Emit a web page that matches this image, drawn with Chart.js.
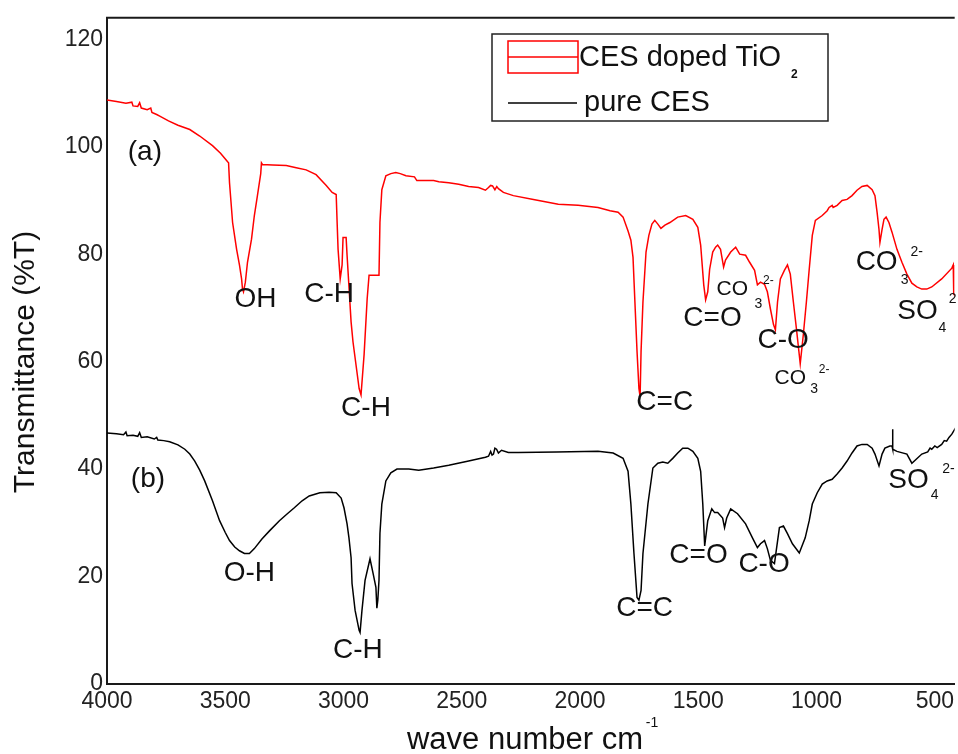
<!DOCTYPE html>
<html>
<head>
<meta charset="utf-8">
<script src="https://cdn.jsdelivr.net/npm/chart.js@4.4.1/dist/chart.umd.min.js"></script>
<style>
  html, body { margin: 0; padding: 0; background: #fff; }
  canvas { display: block; }
</style>
</head>
<body>
<canvas id="ftir" width="958" height="754"></canvas>
<script>
// series labels
const seriesNames = ["CES doped TiO2", "pure CES"];

// (a) CES doped TiO2 - wave number (cm-1) and transmittance (%T)
const dopedWn = [4000, 3960, 3920, 3895, 3890, 3870, 3862, 3855, 3830, 3815, 3810, 3790, 3777, 3740, 3700, 3650, 3608, 3554, 3520, 3490,
  3486, 3482, 3469, 3452, 3440, 3431, 3427, 3423, 3415, 3406, 3389, 3377, 3364, 3350, 3347, 3343, 3300, 3242, 3200, 3158,
  3116, 3073, 3048, 3031, 3027, 3023, 3014, 3006, 3002, 2989, 2985, 2968, 2960, 2934, 2926, 2913, 2900, 2892, 2850, 2846,
  2838, 2821, 2800, 2779, 2760, 2736, 2700, 2690, 2619, 2597, 2555, 2513, 2471, 2429, 2400, 2387, 2378, 2370, 2360, 2352,
  2345, 2324, 2282, 2197, 2092, 2008, 1924, 1873, 1839, 1818, 1797, 1785, 1776, 1768, 1759, 1751, 1746, 1742, 1734, 1721,
  1709, 1696, 1684, 1671, 1658, 1641, 1620, 1587, 1553, 1523, 1502, 1490, 1477, 1469, 1460, 1452, 1439, 1427, 1418, 1406,
  1393, 1385, 1363, 1342, 1325, 1300, 1283, 1262, 1250, 1237, 1220, 1208, 1195, 1182, 1174, 1165, 1153, 1136, 1123, 1111,
  1098, 1085, 1069, 1056, 1043, 1031, 1018, 1005, 976, 955, 947, 934, 930, 913, 892, 871, 850, 829, 808, 786,
  765, 753, 744, 736, 732, 723, 715, 706, 694, 681, 660, 639, 618, 597, 576, 555, 534, 513, 471, 428,
  422, 420, 410];
const dopedT = [108.7, 108.4, 108.1, 108.3, 107.6, 107.5, 108.2, 107.2, 106.9, 107.2, 106.4, 106.0, 105.7, 104.8, 104.0, 103.2, 102.0, 100.2, 98.8, 97.2,
  97.0, 93.3, 85.9, 80.9, 78.0, 75.4, 73.5, 73.0, 74.8, 78.5, 82.8, 87.2, 90.9, 95.0, 97.0, 96.7, 96.6, 96.5, 96.1, 95.7,
  94.8, 92.8, 91.5, 91.1, 85.9, 80.9, 75.4, 78.0, 83.1, 83.1, 79.8, 67.4, 63.7, 55.0, 53.8, 61.3, 71.7, 76.1, 76.1, 85.9,
  92.0, 94.6, 95.0, 95.2, 95.0, 94.6, 94.4, 93.7, 93.7, 93.5, 93.3, 93.0, 92.6, 92.4, 91.9, 92.4, 92.8, 92.7, 92.0, 92.6,
  92.2, 91.5, 90.9, 90.2, 89.3, 89.1, 88.7, 88.1, 87.8, 86.9, 84.3, 82.6, 79.4, 71.1, 61.9, 55.0, 53.5, 61.9, 71.1, 80.4,
  83.5, 85.6, 86.3, 85.6, 84.8, 85.4, 85.9, 86.9, 87.2, 86.5, 85.0, 81.7, 74.3, 71.5, 73.0, 77.2, 80.4, 81.3, 81.7, 80.9,
  77.6, 78.9, 80.4, 81.3, 80.0, 79.8, 78.5, 77.0, 74.3, 74.8, 74.4, 73.0, 69.8, 66.9, 65.9, 71.1, 75.4, 77.0, 78.0, 76.3,
  71.1, 66.1, 59.6, 65.0, 71.1, 77.2, 83.5, 86.3, 87.2, 88.1, 88.7, 89.1, 88.7, 89.1, 90.0, 90.2, 90.9, 91.9, 92.6, 92.8,
  92.0, 90.9, 87.8, 84.6, 82.2, 84.6, 86.5, 86.9, 85.9, 84.1, 80.9, 78.5, 76.3, 74.6, 73.9, 73.5, 73.5, 73.9, 75.4, 77.4,
  78.0, 72.6, 72.0];

// (b) pure CES
const pureWn = [4000, 3960, 3930, 3920, 3915, 3890, 3870, 3862, 3855, 3830, 3800, 3790, 3785, 3760, 3735, 3700, 3671, 3650, 3629, 3608,
  3587, 3554, 3524, 3500, 3482, 3460, 3440, 3419, 3398, 3377, 3345, 3313, 3271, 3240, 3208, 3175, 3145, 3100, 3061, 3031,
  3010, 2998, 2985, 2977, 2968, 2964, 2951, 2934, 2930, 2922, 2909, 2888, 2884, 2875, 2863, 2859, 2855, 2850, 2846, 2838,
  2821, 2800, 2774, 2724, 2682, 2619, 2555, 2471, 2400, 2387, 2378, 2372, 2366, 2360, 2353, 2345, 2332, 2303, 2261, 2100,
  1924, 1860, 1818, 1797, 1785, 1772, 1759, 1751, 1742, 1734, 1713, 1692, 1671, 1650, 1629, 1608, 1587, 1566, 1544, 1523,
  1502, 1490, 1481, 1473, 1460, 1443, 1431, 1418, 1397, 1389, 1380, 1363, 1334, 1300, 1271, 1250, 1237, 1220, 1208, 1195,
  1178, 1157, 1140, 1123, 1102, 1073, 1048, 1031, 1018, 997, 976, 955, 934, 913, 892, 871, 850, 829, 808, 786,
  765, 753, 736, 723, 711, 690, 681, 679, 677, 660, 618, 597, 555, 530, 520, 513, 500, 490, 471, 460,
  450, 440, 428, 416, 410];
const pureT = [46.7, 46.6, 46.4, 46.9, 46.2, 46.3, 46.1, 46.8, 45.9, 46.0, 45.6, 45.9, 45.4, 45.3, 45.1, 44.5, 43.7, 42.8, 41.5, 39.8,
  37.8, 34.1, 30.4, 28.2, 26.7, 25.5, 24.8, 24.3, 24.3, 25.2, 27.0, 28.5, 30.4, 31.6, 32.8, 34.1, 35.0, 35.6, 35.7, 35.6,
  34.6, 32.8, 29.8, 27.2, 23.5, 18.7, 13.7, 10.0, 9.6, 13.7, 19.3, 23.3, 23.3, 20.6, 18.0, 14.1, 15.6, 19.3, 28.0, 33.5,
  37.8, 39.3, 40.0, 40.0, 39.8, 40.2, 40.7, 41.5, 42.2, 42.4, 43.3, 42.6, 42.8, 43.9, 43.7, 43.0, 43.5, 43.1, 43.1, 43.2,
  43.3, 43.0, 42.0, 39.6, 33.5, 24.3, 16.1, 15.6, 17.4, 24.3, 33.5, 40.2, 41.1, 41.3, 41.1, 42.0, 43.0, 43.9, 43.9, 43.3,
  42.0, 39.6, 33.5, 25.7, 30.4, 32.6, 31.9, 31.9, 30.9, 29.1, 30.9, 32.6, 31.7, 29.8, 27.2, 25.4, 26.1, 26.7, 25.2, 23.0,
  22.4, 29.1, 29.4, 28.0, 26.1, 24.4, 27.2, 30.4, 33.5, 35.6, 37.2, 37.8, 38.1, 39.1, 40.2, 41.5, 43.0, 44.3, 44.6, 44.6,
  43.9, 42.8, 40.6, 42.8, 43.9, 44.3, 44.3, 47.4, 43.7, 43.3, 42.8, 41.1, 42.8, 43.2, 43.9, 43.7, 44.3, 44.0, 44.6, 45.3,
  45.2, 45.9, 46.5, 47.4, 47.8];

// axis ticks
const xTicks = [4000, 3500, 3000, 2500, 2000, 1500, 1000, 500];
const yTicks = [0, 20, 40, 60, 80, 100, 120];

// band labels: text, wave number, %T, font size
const bandLabels = [
  ["(a)", 3840, 98.9, 28], ["(b)", 3827, 38.1, 28],
  ["OH", 3372, 71.7, 28], ["C-H", 3061, 72.6, 28], ["C-H", 2905, 51.3, 28],
  ["C=C", 1642, 52.4, 28], ["C=O", 1440, 68.0, 28],
  ["CO", 1356, 73.5, 21], ["3", 1246, 70.7, 14], ["2-", 1204, 75.0, 12],
  ["C-O", 1141, 63.9, 28],
  ["CO", 1111, 57.0, 21], ["3", 1010, 54.8, 14], ["2-", 968, 58.5, 12],
  ["CO", 746, 78.5, 28], ["3", 628, 75.2, 14], ["2-", 577, 80.4, 14],
  ["SO", 573, 69.3, 28], ["4", 468, 66.3, 14], ["2", 425, 71.7, 14],
  ["O-H", 3398, 20.7, 28], ["C-H", 2939, 6.3, 28],
  ["C=C", 1727, 14.1, 28], ["C=O", 1499, 23.9, 28], ["C-O", 1222, 22.2, 28],
  ["SO", 611, 38.0, 28], ["4", 501, 35.2, 14], ["2-", 442, 40.0, 14]
];

const FONT = "'Liberation Sans', Arial, sans-serif";
const toPoints = (xs, ys) => xs.map((x, i) => ({ x: x, y: ys[i] }));

// extra drawing: frame top, band labels, legend box, axis titles
const extras = {
  id: "extras",
  afterDraw(chart) {
    const ctx = chart.ctx;
    const area = chart.chartArea;
    const xs = chart.scales.x, ys = chart.scales.y;
    ctx.save();

    ctx.strokeStyle = "#1a1a1a";
    ctx.lineWidth = 2;
    ctx.beginPath();
    ctx.moveTo(area.left - 1, area.top);
    ctx.lineTo(area.right, area.top);
    ctx.stroke();

    ctx.fillStyle = "#111";
    ctx.textAlign = "center";
    ctx.textBaseline = "middle";
    bandLabels.forEach(([t, wn, v, size]) => {
      ctx.font = size + "px " + FONT;
      ctx.fillText(t, xs.getPixelForValue(wn), ys.getPixelForValue(v));
    });

    // legend
    ctx.lineWidth = 1.5;
    ctx.strokeStyle = "#222";
    ctx.strokeRect(492, 34, 336, 87);
    ctx.strokeStyle = "#ff0000";
    ctx.strokeRect(508, 41, 70, 32);
    ctx.beginPath(); ctx.moveTo(508, 57); ctx.lineTo(578, 57); ctx.stroke();
    ctx.strokeStyle = "#000";
    ctx.beginPath(); ctx.moveTo(508, 103); ctx.lineTo(577, 103); ctx.stroke();
    ctx.textAlign = "left";
    ctx.textBaseline = "alphabetic";
    ctx.font = "29px " + FONT;
    ctx.fillText("CES doped TiO", 579, 66);
    ctx.fillText("pure CES", 584, 111);
    ctx.font = "bold 12px " + FONT;
    ctx.fillText("2", 791, 78);

    // axis titles
    ctx.textAlign = "center";
    ctx.font = "31px " + FONT;
    ctx.fillText("wave number cm", 525, 749);
    ctx.font = "14px " + FONT;
    ctx.fillText("-1", 652, 727);
    ctx.translate(34, 362);
    ctx.rotate(-Math.PI / 2);
    ctx.font = "30px " + FONT;
    ctx.fillText("Transmittance (%T)", 0, 0);
    ctx.restore();
  }
};

new Chart(document.getElementById("ftir"), {
  type: "line",
  data: {
    datasets: [
      { label: seriesNames[0], data: toPoints(dopedWn, dopedT), borderColor: "#ff0000", borderWidth: 1.5, pointRadius: 0, tension: 0 },
      { label: seriesNames[1], data: toPoints(pureWn, pureT), borderColor: "#000000", borderWidth: 1.5, pointRadius: 0, tension: 0 }
    ]
  },
  options: {
    responsive: false,
    animation: false,
    layout: { padding: { top: 13, left: 0, right: -3, bottom: 0 } },
    plugins: { legend: { display: false }, tooltip: { enabled: false } },
    scales: {
      x: {
        type: "linear",
        reverse: true,
        min: 416,
        max: 4000,
        afterBuildTicks: s => { s.ticks = xTicks.map(v => ({ value: v })); },
        afterFit: s => { s.height = 70; },
        grid: { display: false, drawTicks: false },
        border: { display: true, color: "#1a1a1a", width: 2 },
        ticks: { color: "#222", padding: 4, maxRotation: 0, font: { family: FONT, size: 23 }, callback: v => String(v) }
      },
      y: {
        min: 0,
        max: 124,
        afterBuildTicks: s => { s.ticks = yTicks.map(v => ({ value: v })); },
        afterFit: s => { s.width = 107; },
        grid: { display: false, drawTicks: false },
        border: { display: true, color: "#1a1a1a", width: 2 },
        ticks: { color: "#222", padding: 4, font: { family: FONT, size: 23 }, callback: v => String(v) }
      }
    }
  },
  plugins: [extras]
});
</script>
</body>
</html>
